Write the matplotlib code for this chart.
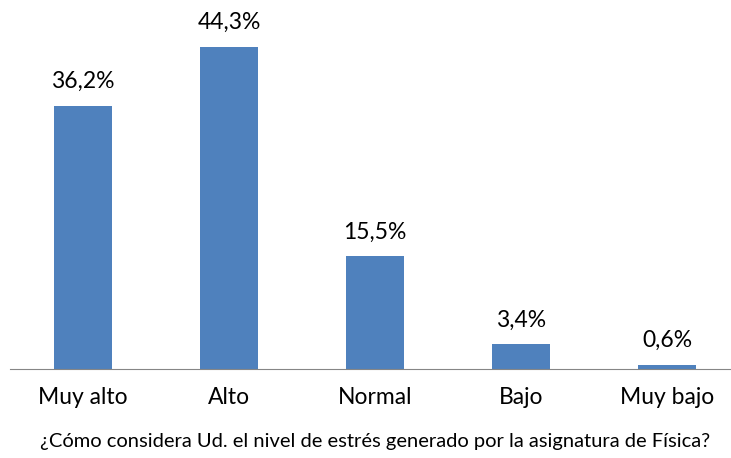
import matplotlib
matplotlib.use("Agg")
import matplotlib.pyplot as plt

categories = ["Muy alto", "Alto", "Normal", "Bajo", "Muy bajo"]
values = [36.2, 44.3, 15.5, 3.4, 0.6]
labels = ["36,2%", "44,3%", "15,5%", "3,4%", "0,6%"]
xlabel = "¿Cómo considera Ud. el nivel de estrés generado por la asignatura de Física?"

W, H = 731, 458
fig = plt.figure(figsize=(W/100, H/100), dpi=100)
left, right = 10/W, 731/W
bottom = 1 - 369/H
ax = fig.add_axes([left, bottom, right-left, 369/H])
ax.bar(range(5), values, width=58/146, color="#4F81BD")
ax.set_xlim(-0.5, 4.5 - (740-731)/146)
ax.set_ylim(0, 369/7.27)
for i, (v, l) in enumerate(zip(values, labels)):
    ax.text(i, v + 1.9, l, ha="center", va="bottom", fontsize=16.5, family="Lato", color="black")
for s in ["top", "right", "left"]:
    ax.spines[s].set_visible(False)
ax.spines["bottom"].set_color("#868686")
ax.set_yticks([])
ax.set_xticks(range(5))
ax.set_xticklabels(categories, fontsize=16.5, family="Lato")
ax.tick_params(axis="x", length=0, pad=13)
fig.text(375/W, 1 - 442/H, xlabel, ha="center", va="center", fontsize=14.5, family="Lato")
fig.savefig("out.png", dpi=100)
